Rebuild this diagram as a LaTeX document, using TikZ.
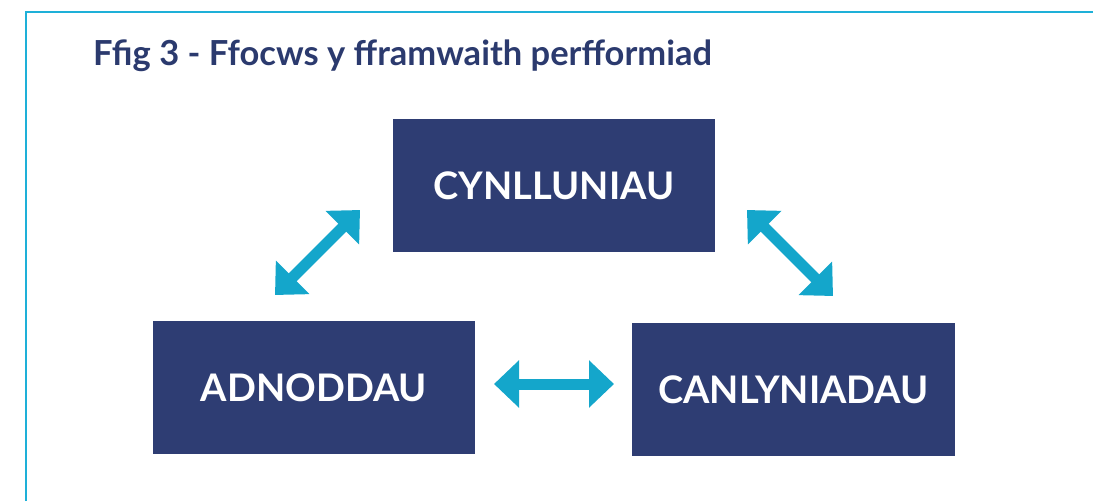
\documentclass[tikz,border=0pt]{standalone}
\usepackage{fontspec}
\setmainfont{Lato}
\usetikzlibrary{arrows.meta}
\definecolor{navy}{HTML}{2E3D73}
\definecolor{titleblue}{HTML}{2B3A6E}
\definecolor{arrowblue}{HTML}{14A6CB}
\definecolor{rule}{HTML}{1EB0D8}
\tikzset{
  box/.style={fill=navy, draw=none, text=white, font=\fontsize{38}{44}\selectfont\bfseries, inner sep=0pt},
  link/.style={arrowblue, line width=11pt, {Triangle[length=25pt,width=46pt]}-{Triangle[length=25pt,width=46pt]}},
}
\begin{document}
\begin{tikzpicture}[x=1pt,y=-1pt]
\useasboundingbox (0,0) rectangle (1093,501);
\draw[rule, line width=2pt] (25.5,501) -- (25.5,12) -- (1093,12);
\node[anchor=base west, text=titleblue, font=\fontsize{34.5}{40}\selectfont\bfseries, inner sep=0pt] (title) at (93,65) {Ffig 3 - Ffocws y fframwaith perfformiad};
\node[box, minimum width=322pt, minimum height=133pt] (cyn) at (554,185.5) {CYNLLUNIAU};
\node[box, minimum width=322pt, minimum height=133pt] (adn) at (314,387.5) {ADNODDAU};
\node[box, minimum width=323pt, minimum height=133pt] (can) at (793.5,389.5) {CANLYNIADAU};
\coordinate (a1) at (275,295);
\coordinate (a2) at (360,210);
\coordinate (b1) at (747,210);
\coordinate (b2) at (833,296);
\coordinate (c1) at (494,384);
\coordinate (c2) at (614,384);
\draw[link] (a1) -- (a2);
\draw[link] (b1) -- (b2);
\draw[link] (c1) -- (c2);
\end{tikzpicture}
\end{document}
